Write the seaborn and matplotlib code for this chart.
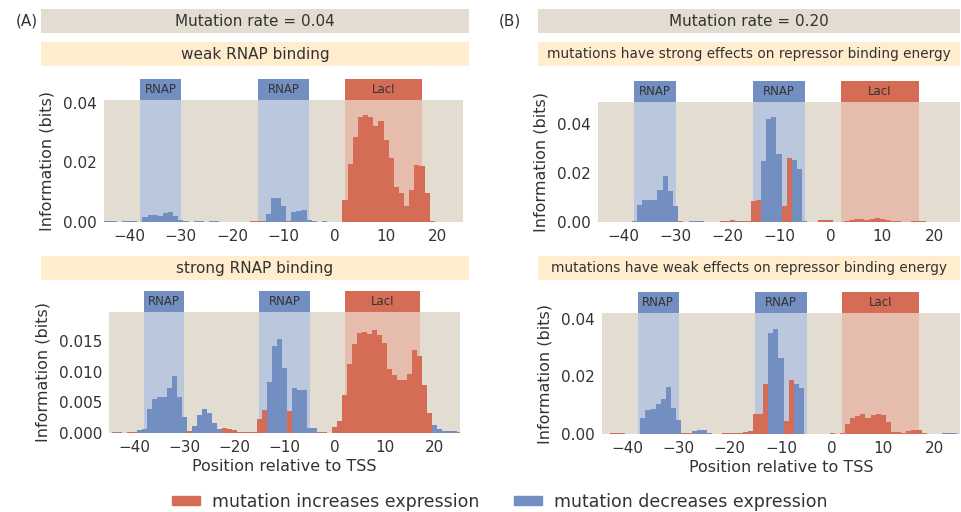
import numpy as np
import pandas as pd
import matplotlib
matplotlib.use('Agg')
import matplotlib.pyplot as plt
from matplotlib.patches import Rectangle, Patch
import seaborn as sns

# Positions relative to the TSS (one bar per base)
positions = list(range(-45, 26))

# Information (bits) per position, positions -45 ... 25
# sign: 1 = mutation increases expression, -1 = mutation decreases expression
info_weak_rnap = [
    0.0003, 0.0003, 0.0003, 0, 0.0003, 0.0003, 0.0003, 0, 0.0017, 0.0024,
    0.0024, 0.0021, 0.0031, 0.0034, 0.0021, 0.0007, 0.0003, 0, 0.0003, 0.0003,
    0, 0.0003, 0.0003, 0, 0, 0, 0, 0, 0, 0.0003,
    0.0003, 0.0003, 0.0028, 0.0079, 0.0082, 0.0055, 0.0003, 0.0034, 0.0038, 0.0041,
    0.0007, 0.0003, 0, 0.0003, 0, 0, 0, 0.0075, 0.0195, 0.0284,
    0.0353, 0.0360, 0.0353, 0.0322, 0.0339, 0.0277, 0.0216, 0.0116, 0.0099, 0.0055,
    0.0106, 0.0192, 0.0188, 0.0096, 0.0003, 0, 0, 0, 0, 0,
    0]
sign_weak_rnap = [
    -1, -1, -1, 1, -1, -1, -1, 1, -1, -1,
    -1, -1, -1, -1, -1, -1, -1, 1, -1, -1,
    1, -1, -1, 1, 1, 1, 1, 1, 1, 1,
    1, 1, -1, -1, -1, -1, 1, -1, -1, -1,
    -1, -1, 1, -1, 1, 1, 1, 1, 1, 1,
    1, 1, 1, 1, 1, 1, 1, 1, 1, 1,
    1, 1, 1, 1, 1, 1, 1, 1, 1, 1,
    1]

info_strong_rnap = [
    0, 0.0001, 0.0001, 0, 0.0002, 0.0002, 0.0005, 0.0007, 0.0040, 0.0056,
    0.0059, 0.0059, 0.0073, 0.0093, 0.0059, 0.0026, 0.0003, 0.0011, 0.0030, 0.0040,
    0.0032, 0.0016, 0.0006, 0.0008, 0.0006, 0.0005, 0.0002, 0.0002, 0.0002, 0.0002,
    0.0023, 0.0037, 0.0084, 0.0142, 0.0154, 0.0106, 0.0036, 0.0073, 0.0071, 0.0070,
    0.0008, 0.0008, 0.0002, 0.0002, 0, 0.0010, 0.0019, 0.0063, 0.0113, 0.0145,
    0.0163, 0.0166, 0.0162, 0.0168, 0.0161, 0.0147, 0.0105, 0.0095, 0.0086, 0.0086,
    0.0096, 0.0136, 0.0126, 0.0079, 0.0032, 0.0013, 0.0006, 0.0004, 0.0003, 0.0003,
    0.0002]
sign_strong_rnap = [
    1, -1, 1, 1, 1, 1, -1, -1, -1, -1,
    -1, -1, -1, -1, -1, -1, 1, -1, -1, -1,
    -1, -1, -1, 1, 1, 1, 1, 1, 1, 1,
    1, 1, -1, -1, -1, -1, 1, -1, -1, -1,
    -1, -1, 1, 1, 1, 1, 1, 1, 1, 1,
    1, 1, 1, 1, 1, 1, 1, 1, 1, 1,
    1, 1, 1, 1, 1, -1, -1, -1, -1, -1,
    1]

info_strong_rep = [
    0, 0, 0, 0, 0, 0, 0, 0.0003, 0.0068, 0.0089,
    0.0089, 0.0089, 0.0130, 0.0188, 0.0126, 0.0064, 0.0003, 0, 0.0003, 0.0003,
    0.0003, 0, 0, 0, 0.0003, 0.0003, 0.0007, 0.0005, 0.0005, 0.0005,
    0.0085, 0.0089, 0.0249, 0.0422, 0.0430, 0.0278, 0.0064, 0.0262, 0.0253, 0.0216,
    0.0003, 0, 0, 0.0007, 0.0007, 0.0007, 0, 0, 0.0003, 0.0007,
    0.0011, 0.0011, 0.0007, 0.0011, 0.0015, 0.0011, 0.0007, 0.0003, 0.0003, 0,
    0, 0.0003, 0.0003, 0.0003, 0, 0, 0, 0, 0, 0,
    0]
sign_strong_rep = [
    1, 1, 1, 1, 1, 1, 1, -1, -1, -1,
    -1, -1, -1, -1, -1, -1, 1, 1, -1, -1,
    -1, 1, 1, 1, 1, 1, 1, 1, 1, 1,
    1, 1, -1, -1, -1, -1, 1, 1, -1, -1,
    -1, 1, 1, 1, 1, 1, 1, 1, 1, 1,
    1, 1, 1, 1, 1, 1, 1, 1, 1, 1,
    1, 1, 1, 1, 1, 1, 1, 1, 1, 1,
    1]

info_weak_rep = [
    0, 0, 0.0003, 0.0003, 0.0003, 0, 0, 0, 0.0055, 0.0083,
    0.0086, 0.0103, 0.0121, 0.0163, 0.0090, 0.0048, 0.0003, 0.0003, 0.0009, 0.0013,
    0.0013, 0.0003, 0, 0, 0.0003, 0.0003, 0.0003, 0.0003, 0.0007, 0.0009,
    0.0070, 0.0070, 0.0174, 0.0349, 0.0366, 0.0264, 0.0045, 0.0187, 0.0173, 0.0159,
    0, 0, 0, 0, 0, 0.0003, 0, 0.0003, 0.0035, 0.0055,
    0.0062, 0.0069, 0.0055, 0.0065, 0.0069, 0.0065, 0.0041, 0.0007, 0.0007, 0.0003,
    0.0010, 0.0014, 0.0014, 0.0003, 0, 0, 0, 0.0003, 0.0003, 0.0003,
    0]
sign_weak_rep = [
    1, 1, 1, 1, 1, 1, 1, 1, -1, -1,
    -1, -1, -1, -1, -1, -1, 1, 1, -1, -1,
    -1, -1, 1, 1, 1, 1, 1, 1, 1, 1,
    1, 1, 1, -1, -1, -1, 1, 1, -1, -1,
    1, 1, 1, 1, 1, 1, 1, 1, 1, 1,
    1, 1, 1, 1, 1, 1, 1, 1, 1, 1,
    1, 1, 1, 1, 1, 1, 1, -1, -1, -1,
    1]

# Binding site annotations
sites = [(-38, -30, 'RNAP'), (-15, -5, 'RNAP'), (2, 17, 'LacI')]

# Colours
red = '#D56C55'
blue = '#738FC1'
light_red = '#E8B19D'
light_blue = '#A9BFE3'
bg = '#E3DCD0'
yellow = '#FFEDCE'
txt = '#333333'

lab_up = 'mutation increases expression'
lab_down = 'mutation decreases expression'

W, H = 961, 512
fig = plt.figure(figsize=(W / 100, H / 100), dpi=100)


def px_axes(x0, y0, x1, y1):
    return fig.add_axes([x0 / W, 1 - y1 / H, (x1 - x0) / W, (y1 - y0) / H])


def fig_bar(x0, y0, x1, y1, color, text, size):
    fig.add_artist(Rectangle((x0 / W, 1 - y1 / H), (x1 - x0) / W, (y1 - y0) / H,
                             transform=fig.transFigure, color=color, lw=0))
    fig.text((x0 + x1) / 2 / W, 1 - (y0 + y1) / 2 / H, text, ha='center', va='center',
             fontsize=size, color=txt)


def draw_panel(ax, info, sign, ymax, yticks, box_px, xlabel=False):
    df = pd.DataFrame({'position': positions, 'info': info,
                       'effect': [lab_up if s > 0 else lab_down for s in sign]})
    ax.set_facecolor(bg)
    for lo, hi, name in sites:
        c = light_red if name == 'LacI' else light_blue
        ax.axvspan(lo, hi, color=c, alpha=0.7, lw=0, zorder=0.5)
    sns.barplot(data=df, x='position', y='info', hue='effect',
                hue_order=[lab_up, lab_down], palette={lab_up: red, lab_down: blue},
                native_scale=True, dodge=False, width=1, saturation=1,
                errorbar=None, legend=False, linewidth=0, ax=ax)
    ax.set_xlim(-45, 25)
    ax.set_ylim(0, ymax)
    ax.set_xticks([-40, -30, -20, -10, 0, 10, 20])
    ax.set_yticks(yticks)
    for s in ax.spines.values():
        s.set_visible(False)
    ax.tick_params(length=0, pad=5, labelsize=11, colors=txt)
    ax.set_ylabel('Information (bits)', fontsize=11.5, color=txt, labelpad=6)
    if xlabel:
        ax.set_xlabel('Position relative to TSS', fontsize=11.5, color=txt, labelpad=3)
    else:
        ax.set_xlabel('')
    # labelled boxes above the binding sites
    h = box_px / (ax.get_position().height * H)
    for lo, hi, name in sites:
        c = red if name == 'LacI' else blue
        ax.add_patch(Rectangle((lo, 1.0), hi - lo, h, transform=ax.get_xaxis_transform(),
                               color=c, lw=0, clip_on=False))
        ax.text((lo + hi) / 2, 1 + h / 2, name, transform=ax.get_xaxis_transform(),
                ha='center', va='center', fontsize=8.5, color=txt)


# Headers
fig.text(27 / W, 1 - 21 / H, '(A)', ha='center', va='center', fontsize=11, color=txt)
fig.text(510 / W, 1 - 21 / H, '(B)', ha='center', va='center', fontsize=11, color=txt)
fig_bar(41, 9, 469, 33, bg, 'Mutation rate = 0.04', 11)
fig_bar(538, 9, 960, 33, bg, 'Mutation rate = 0.20', 11)
fig_bar(41, 42, 469, 66, yellow, 'weak RNAP binding', 11)
fig_bar(41, 256, 469, 280, yellow, 'strong RNAP binding', 11)
fig_bar(538, 42, 960, 66, yellow, 'mutations have strong effects on repressor binding energy', 9.8)
fig_bar(538, 256, 960, 280, yellow, 'mutations have weak effects on repressor binding energy', 9.8)

ax1 = px_axes(104, 100, 463, 222)
draw_panel(ax1, info_weak_rnap, sign_weak_rnap, 0.041, [0, 0.02, 0.04], 21)

ax2 = px_axes(109, 312, 460, 433)
draw_panel(ax2, info_strong_rnap, sign_strong_rnap, 0.0198, [0, 0.005, 0.010, 0.015], 21,
           xlabel=True)

ax3 = px_axes(598, 102, 960, 222)
draw_panel(ax3, info_strong_rep, sign_strong_rep, 0.049, [0, 0.02, 0.04], 21)

ax4 = px_axes(602, 313, 960, 434)
draw_panel(ax4, info_weak_rep, sign_weak_rep, 0.042, [0, 0.02, 0.04], 21, xlabel=True)

# Legend
handles = [Patch(color=red, label=lab_up), Patch(color=blue, label=lab_down)]
fig.legend(handles=handles, loc='center', bbox_to_anchor=(500 / W, 1 - 502 / H), ncol=2,
           frameon=False, fontsize=12.5, handlelength=1.6, handleheight=0.4,
           handletextpad=0.7, columnspacing=2.0, labelcolor=txt)

fig.savefig('out.png', dpi=100)
